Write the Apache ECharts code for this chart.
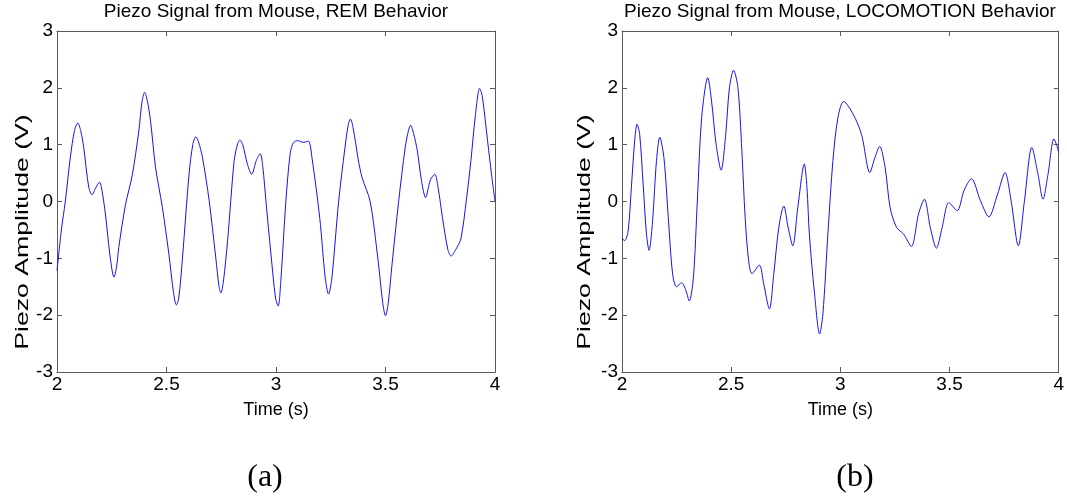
<!DOCTYPE html>
<html>
<head>
<meta charset="utf-8">
<script src="https://cdn.jsdelivr.net/npm/echarts@6/dist/echarts.min.js"></script>
<style>
  html, body { margin: 0; padding: 0; background: #fff; }
  #chart { width: 1067px; height: 496px; }
</style>
</head>
<body>
<div id="chart"></div>
<script>
// Panel titles and axis text
const panelTitles = ['Piezo Signal from Mouse, REM Behavior', 'Piezo Signal from Mouse, LOCOMOTION Behavior'];
const panelTags = ['(a)', '(b)'];
const xAxisName = 'Time (s)';
const yAxisName = 'Piezo Amplitude (V)';

// Time range / amplitude range
const timeMin = 2, timeMax = 4, timeStep = 0.5;
const ampMin = -3, ampMax = 3, ampStep = 1;

// Piezo trace during REM sleep: [time (s), amplitude (V)]
const remSignal = [
  [2.000,-1.22],[2.020,-0.50],[2.038,0.00],[2.061,0.78],[2.080,1.25],[2.095,1.38],[2.108,1.25],[2.122,0.95],
  [2.145,0.25],[2.160,0.12],[2.178,0.25],[2.194,0.34],[2.205,0.20],[2.221,-0.22],[2.242,-0.95],[2.260,-1.33],
  [2.272,-1.15],[2.282,-0.81],[2.313,-0.05],[2.343,0.45],[2.374,1.25],[2.388,1.75],[2.400,1.92],[2.412,1.78],
  [2.427,1.42],[2.450,0.60],[2.481,-0.10],[2.511,-0.93],[2.532,-1.60],[2.545,-1.82],[2.556,-1.70],[2.573,-0.99],
  [2.603,0.48],[2.620,1.00],[2.634,1.14],[2.646,1.05],[2.664,0.78],[2.695,0.01],[2.725,-0.99],[2.740,-1.50],
  [2.748,-1.61],[2.760,-1.40],[2.779,-0.69],[2.809,0.72],[2.825,1.02],[2.835,1.08],[2.848,1.00],[2.870,0.65],
  [2.889,0.48],[2.910,0.72],[2.928,0.84],[2.940,0.60],[2.954,0.01],[2.977,-0.93],[2.998,-1.70],[3.010,-1.84],
  [3.022,-1.40],[3.045,0.00],[3.065,0.85],[3.080,1.04],[3.100,1.07],[3.125,1.04],[3.148,1.06],[3.165,0.75],
  [3.200,-0.30],[3.225,-1.35],[3.240,-1.63],[3.255,-1.35],[3.286,0.00],[3.315,0.95],[3.330,1.35],[3.340,1.45],
  [3.352,1.30],[3.375,0.75],[3.393,0.42],[3.430,0.00],[3.465,-1.00],[3.488,-1.80],[3.500,-2.01],[3.512,-1.80],
  [3.530,-1.10],[3.560,0.00],[3.590,0.95],[3.605,1.25],[3.615,1.34],[3.628,1.20],[3.645,0.90],[3.665,0.35],
  [3.683,0.07],[3.705,0.38],[3.725,0.48],[3.740,0.25],[3.760,-0.28],[3.785,-0.85],[3.800,-0.96],[3.820,-0.85],
  [3.844,-0.66],[3.870,0.05],[3.890,0.72],[3.910,1.50],[3.930,1.99],[3.942,1.85],[3.966,1.07],[3.985,0.45],
  [4.000,0.00]
];

// Piezo trace during locomotion: [time (s), amplitude (V)]
const locoSignal = [
  [2.000,-0.65],[2.012,-0.69],[2.028,-0.52],[2.043,0.25],[2.058,1.07],[2.069,1.36],[2.081,1.18],[2.097,0.30],
  [2.112,-0.57],[2.124,-0.86],[2.140,-0.34],[2.158,0.72],[2.173,1.13],[2.192,0.77],[2.212,-0.28],[2.232,-1.28],
  [2.250,-1.50],[2.273,-1.43],[2.293,-1.57],[2.308,-1.75],[2.327,-1.34],[2.345,0.01],[2.365,1.48],[2.393,2.18],
  [2.410,1.77],[2.431,1.01],[2.454,0.55],[2.475,1.18],[2.492,2.00],[2.511,2.31],[2.531,2.00],[2.549,0.89],
  [2.564,-0.28],[2.580,-1.04],[2.595,-1.27],[2.629,-1.12],[2.649,-1.45],[2.675,-1.89],[2.695,-1.28],[2.718,-0.46],
  [2.741,-0.08],[2.761,-0.46],[2.782,-0.78],[2.805,-0.11],[2.835,0.66],[2.847,0.25],[2.858,-0.57],[2.882,-1.63],
  [2.905,-2.33],[2.920,-1.98],[2.943,-0.57],[2.966,0.72],[2.989,1.48],[3.015,1.76],[3.058,1.54],[3.097,1.18],
  [3.135,0.51],[3.158,0.77],[3.180,0.97],[3.205,0.60],[3.228,-0.11],[3.258,-0.46],[3.289,-0.57],[3.325,-0.79],
  [3.358,-0.22],[3.385,0.04],[3.412,-0.46],[3.440,-0.82],[3.466,-0.46],[3.497,-0.02],[3.535,-0.16],[3.566,0.19],
  [3.600,0.40],[3.642,0.01],[3.680,-0.27],[3.720,0.13],[3.754,0.51],[3.782,0.01],[3.815,-0.78],[3.843,0.01],
  [3.877,0.95],[3.905,0.48],[3.928,0.04],[3.951,0.48],[3.978,1.10],[3.990,1.00],[4.000,0.86]
];

const signals = [remSignal, locoSignal];

const FONT = '"Liberation Sans", Arial, sans-serif';
const AXIS_COLOR = '#5a5a5a';
const LINE_COLOR = '#1414e6';

// plot boxes (left, width) for the two panels
const panels = [
  { left: 57, width: 438, center: 276, yLabelX: 23, tagX: 265 },
  { left: 622, width: 437, center: 840, yLabelX: 585, tagX: 855 }
];
const plotTop = 31, plotHeight = 341;

const grids = [], xAxes = [], yAxes = [], series = [], titles = [], graphics = [];

panels.forEach((p, i) => {
  grids.push({ left: p.left, width: p.width, top: plotTop, height: plotHeight, show: false, containLabel: false });

  const lineStyle = { color: AXIS_COLOR, width: 1 };
  const tick = { show: true, inside: true, length: 5, lineStyle };
  // bottom axis with labels
  xAxes.push({
    type: 'value', gridIndex: i, position: 'bottom', min: timeMin, max: timeMax, interval: timeStep,
    axisLine: { show: true, onZero: false, lineStyle }, axisTick: tick,
    splitLine: { show: false },
    axisLabel: { color: '#000', fontFamily: FONT, fontSize: 19, margin: 3 },
    name: xAxisName, nameLocation: 'middle', nameGap: 29,
    nameTextStyle: { color: '#000', fontFamily: FONT, fontSize: 18 }
  });
  // top edge of the box
  xAxes.push({
    type: 'value', gridIndex: i, position: 'top', min: timeMin, max: timeMax, interval: timeStep,
    axisLine: { show: true, onZero: false, lineStyle }, axisTick: tick,
    axisLabel: { show: false }, splitLine: { show: false }
  });
  // left axis with labels
  yAxes.push({
    type: 'value', gridIndex: i, position: 'left', min: ampMin, max: ampMax, interval: ampStep,
    axisLine: { show: true, onZero: false, lineStyle }, axisTick: tick,
    splitLine: { show: false },
    axisLabel: { color: '#000', fontFamily: FONT, fontSize: 19, margin: 4 }
  });
  // right edge of the box
  yAxes.push({
    type: 'value', gridIndex: i, position: 'right', min: ampMin, max: ampMax, interval: ampStep,
    axisLine: { show: true, onZero: false, lineStyle }, axisTick: tick,
    axisLabel: { show: false }, splitLine: { show: false }
  });

  series.push({
    type: 'line', xAxisIndex: i * 2, yAxisIndex: i * 2, data: signals[i],
    showSymbol: false, smooth: 0.3, animation: false,
    lineStyle: { color: LINE_COLOR, width: 1 }
  });

  titles.push({
    text: panelTitles[i], left: p.center, top: 2, textAlign: 'center', padding: 0,
    textStyle: { color: '#000', fontFamily: FONT, fontSize: 19, fontWeight: 'normal' }
  });

  // vertical axis label, drawn rotated and stretched along its length
  graphics.push({
    type: 'text', x: p.yLabelX, y: 232, rotation: Math.PI / 2, scaleX: 1.48,
    style: { text: yAxisName, font: '18px ' + FONT, fill: '#000', align: 'center', verticalAlign: 'middle' }
  });
  // panel tag below each plot
  graphics.push({
    type: 'text', x: p.tagX, y: 478,
    style: { text: panelTags[i], font: '32px "Liberation Serif", "Times New Roman", serif', fill: '#000', align: 'center', verticalAlign: 'middle' }
  });
});

const chart = echarts.init(document.getElementById('chart'), null, { renderer: 'canvas' });
chart.setOption({
  backgroundColor: '#ffffff',
  animation: false,
  title: titles,
  grid: grids,
  xAxis: xAxes,
  yAxis: yAxes,
  series: series,
  graphic: graphics
});
</script>
</body>
</html>
